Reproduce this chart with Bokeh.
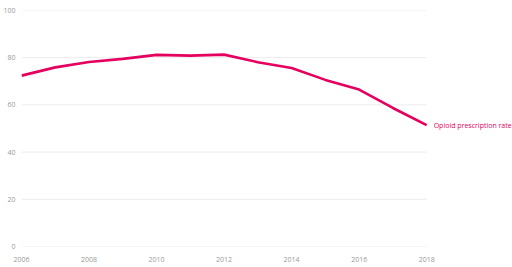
from bokeh.plotting import figure
from bokeh.models import Range1d, FixedTicker
from bokeh.core.properties import value
from bokeh.embed import file_html
from bokeh.resources import INLINE

years = [2006, 2007, 2008, 2009, 2010, 2011, 2012, 2013, 2014, 2015, 2016, 2017, 2018]
rates = [72.4, 75.9, 78.2, 79.5, 81.2, 80.9, 81.3, 78.1, 75.6, 70.6, 66.5, 58.7, 51.4]
series_name = "Opioid prescription rate"
x_ticks = [2006, 2008, 2010, 2012, 2014, 2016, 2018]
y_ticks = [0, 20, 40, 60, 80, 100]

color = "#e5005f"
font = "Open Sans"

# frame spans from x=20 to the right edge; years 2006..2018 occupy 406 px
x_end = 2006 + (512 - 20) * 12 / 406.0

p = figure(width=512, height=267, output_backend="svg", toolbar_location=None,
           x_range=Range1d(2006, x_end), y_range=Range1d(0, 100),
           min_border_left=20, min_border_right=0, min_border_top=10, min_border_bottom=21)
p.outline_line_color = None
p.background_fill_color = "white"
p.border_fill_color = "white"

# horizontal gridlines only across the data span
p.segment(x0=[years[0]] * len(y_ticks), x1=[years[-1]] * len(y_ticks),
          y0=y_ticks, y1=y_ticks, line_color="#ececec", line_width=1)

p.line(years, rates, line_color=color, line_width=2.6, line_join="round")

p.text(x=[years[-1]], y=[rates[-1]], text=[series_name], x_offset=7,
       text_baseline="middle", text_align="left", text_color=color,
       text_font=value(font), text_font_size="7px")

for ax in (p.xaxis[0], p.yaxis[0]):
    ax.axis_line_color = None
    ax.major_tick_line_color = None
    ax.minor_tick_line_color = None
    ax.major_tick_out = 0
    ax.major_tick_in = 0
    ax.minor_tick_out = 0
    ax.major_label_text_color = "#999999"
    ax.major_label_text_font = font
    ax.major_label_text_font_size = "7px"

p.xaxis[0].ticker = FixedTicker(ticks=x_ticks)
p.yaxis[0].ticker = FixedTicker(ticks=y_ticks)
p.xaxis[0].major_label_standoff = 10
p.yaxis[0].major_label_standoff = 6

p.xgrid.grid_line_color = None
p.ygrid.grid_line_color = None

open("out.html", "w").write(file_html(p, INLINE))
